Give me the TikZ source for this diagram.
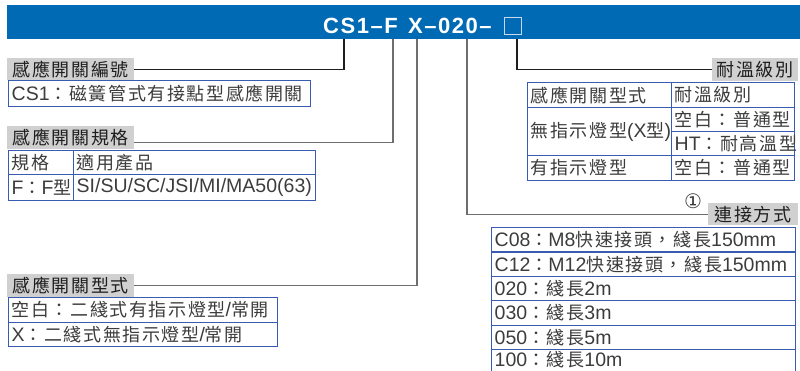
\documentclass[tikz,border=0pt]{standalone}
\usepackage{fontspec}
\setmainfont{Liberation Sans}
\newfontfamily\cjkfont{Noto Sans CJK TC}[LetterSpace=8.9]
\newfontfamily\djfont{DejaVu Sans}
\newfontfamily\titlefont{Liberation Sans}[LetterSpace=7]
\newcommand\zh[1]{{\cjkfont\fontsize{18}{22}\selectfont #1}}
\definecolor{hdr}{RGB}{0,106,180}
\definecolor{lgray}{RGB}{208,208,208}
\definecolor{tblue}{RGB}{55,92,178}
\definecolor{labtxt}{RGB}{30,30,30}
\definecolor{celltxt}{RGB}{60,60,60}
\definecolor{lkc}{RGB}{30,30,30}
\definecolor{lgc}{RGB}{110,110,110}
\definecolor{sqc}{RGB}{195,218,240}
\tikzset{
  labelbox/.style={fill=lgray, anchor=north west, text=labtxt, inner sep=0pt},
  cellbox/.style={draw=tblue, line width=1.2pt, inner sep=0pt},
  celltext/.style={text=celltxt, inner sep=0pt, font=\fontsize{19.5}{22}\selectfont},
  lk/.style={draw=lkc, line width=1.1pt},
  lg/.style={draw=lgc, line width=1.1pt},
  titletext/.style={anchor=base west, text=white, inner sep=0pt, font=\titlefont\bfseries\fontsize{22}{26}\selectfont}
}
\newcommand\tcell[7][0pt]{%
  \node[cellbox, minimum width=#5pt, minimum height=#6pt, anchor=north west] (#2) at (#3,#4) {};
  \node[celltext, anchor=west] (#2t) at ([xshift=3.5pt,yshift=#1]#2.west) {#7};}
\begin{document}
\begin{tikzpicture}[x=1pt,y=-1pt]
\useasboundingbox (0,0) rectangle (800,370);
% header
\node[fill=hdr, minimum width=793pt, minimum height=34pt, anchor=north west, inner sep=0pt] (bar) at (7,5) {};
\node[titletext] (tA) at (323,33) {CS1–F};
\node[titletext] (tB) at (408,33) {X–020–};
\node[draw=sqc, line width=1.4pt, minimum size=17pt, anchor=north west, inner sep=0pt] (sq) at (504,17) {};
% connector start points at bar bottom
\coordinate (p1) at (344,39);
\coordinate (p2) at (393,39);
\coordinate (p3) at (417,39);
\coordinate (p4) at (467,39);
\coordinate (p5) at (517,39);
% labels
\node[labelbox, minimum width=127pt, minimum height=22pt] (lab1) at (7,58) {\zh{感應開關編號}};
\node[labelbox, minimum width=127pt, minimum height=23pt] (lab2) at (7,126) {\zh{感應開關規格}};
\node[labelbox, minimum width=127pt, minimum height=23pt] (lab3) at (7,274) {\zh{感應開關型式}};
\node[labelbox, minimum width=86pt, minimum height=23pt] (lab5) at (712,58) {\zh{耐溫級別}};
\node[labelbox, minimum width=90pt, minimum height=22pt] (lab4) at (708,203) {\zh{連接方式}};
\node[text=celltxt, inner sep=0pt, font=\djfont\fontsize{20}{20}\selectfont] (n1) at (693,201) {①};
% connectors
\draw[lk] (p1) |- (lab1.east);
\draw[lg] (p2) |- ([yshift=-4.5pt]lab2.east);
\draw[lg] (p3) |- (lab3.east);
\draw[lg] (p4) |- (lab4.west);
\draw[lk] (p5) |- (lab5.west);
% table 1
\tcell{a1}{8}{80}{302}{26}{CS1\zh{：磁簧管式有接點型感應開關}}
% table 2
\tcell{b11}{8}{150}{65}{24}{\zh{規格}}
\tcell{b12}{73}{150}{242}{24}{\zh{適用產品}}
\tcell{b21}{8}{174}{65}{26}{F\zh{：}F\zh{型}}
\tcell{b22}{73}{174}{242}{26}{SI/SU/SC/JSI/MI/MA50(63)}
% table 3
\tcell{c1}{8}{297}{269}{25}{\zh{空白：二綫式有指示燈型}/\zh{常開}}
\tcell{c2}{8}{322}{269}{24}{X\zh{：二綫式無指示燈型}/\zh{常開}}
% top-right table
\tcell{r11}{527}{82}{144}{25}{\zh{感應開關型式}}
\tcell{r12}{671}{82}{123}{25}{\zh{耐溫級別}}
\tcell{r21}{527}{107}{144}{48}{\zh{無指示燈型}(X\zh{型})}
\tcell{r22}{671}{107}{123}{24}{\zh{空白：普通型}}
\tcell{r23}{671}{131}{123}{24}{HT\zh{：耐高溫型}}
\tcell{r31}{527}{155}{144}{25}{\zh{有指示燈型}}
\tcell{r32}{671}{155}{123}{25}{\zh{空白：普通型}}
% bottom-right table
\tcell{d1}{491}{227}{304}{24.4}{C08\zh{：}M8\zh{快速接頭，綫長}150mm}
\tcell{d2}{491}{251.4}{304}{24.4}{C12\zh{：}M12\zh{快速接頭，綫長}150mm}
\tcell{d3}{491}{275.8}{304}{24.4}{020\zh{：綫長}2m}
\tcell{d4}{491}{300.2}{304}{24.4}{030\zh{：綫長}3m}
\tcell{d5}{491}{324.6}{304}{24.4}{050\zh{：綫長}5m}
\tcell[2pt]{d6}{491}{349}{304}{24.4}{100\zh{：綫長}10m}
\end{tikzpicture}
\end{document}
